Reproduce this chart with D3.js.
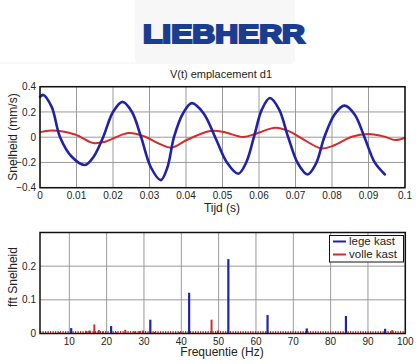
<!DOCTYPE html>
<html>
<head>
<meta charset="utf-8">
<script src="https://cdn.jsdelivr.net/npm/d3@7"></script>
<style>
  body { margin: 0; background: #fff; }
  text { font-family: "Liberation Sans", Arial, sans-serif; fill: #222; }
</style>
</head>
<body>
<div id="chart"></div>
<script>
var width = 416, height = 364;

// top chart: velocity over time
var blueT = [0, 0.0009, 0.0032, 0.0055, 0.0087, 0.0123, 0.0148, 0.0173, 0.0200, 0.0226,
             0.0252, 0.0277, 0.0304, 0.0331, 0.0349, 0.0367, 0.0392, 0.0416, 0.0448, 0.048,
             0.0512, 0.0543, 0.0565, 0.0586, 0.0608, 0.063, 0.0655, 0.068, 0.0707, 0.0733,
             0.0756, 0.0779, 0.0807, 0.0834, 0.0862, 0.0889, 0.0917, 0.0945];
var blueV = [0.32, 0.335, 0.24, 0, -0.155, -0.22, -0.15, 0, 0.2, 0.28,
             0.2, 0, -0.24, -0.34, -0.24, 0, 0.19, 0.27, 0.19, 0,
             -0.2, -0.29, -0.2, 0, 0.22, 0.31, 0.22, 0, -0.21, -0.295,
             -0.21, 0, 0.18, 0.25, 0.18, 0, -0.2, -0.295];
var redT = [0, 0.0032, 0.0096, 0.0146, 0.0178, 0.0242, 0.0288, 0.0329, 0.036, 0.0402,
            0.0466, 0.050, 0.0557, 0.0594, 0.0645, 0.0685, 0.0717, 0.0772, 0.0808, 0.0854,
            0.09, 0.0945, 0.0973, 0.1];
var redV = [0.04, 0.054, 0.022, -0.046, -0.036, 0.033, 0.004, -0.055, -0.083, -0.022,
            0.049, 0.044, 0.002, 0.03, 0.074, 0.044, -0.01, -0.089, -0.062, 0.004,
            0.025, 0.004, -0.022, -0.004];
var timeTicks = [0, 0.01, 0.02, 0.03, 0.04, 0.05, 0.06, 0.07, 0.08, 0.09, 0.1];
var speedTicks = [-0.4, -0.2, 0, 0.2, 0.4];

// bottom chart: fft spectrum
var fftBlueF = [10.5, 21.2, 31.7, 42.1, 52.6, 63.1, 73.6, 84.1, 94.6];
var fftBlueA = [0.016, 0.022, 0.041, 0.121, 0.221, 0.055, 0.015, 0.052, 0.014];
var fftRedF = [7.4, 14.5, 15.4, 16.7, 17.9, 19, 22.5, 25, 27.4, 28.8, 29.7, 32.8, 39.5, 48.1, 49.8, 96.5];
var fftRedA = [0.004, 0.008, 0.009, 0.027, 0.01, 0.006, 0.004, 0.011, 0.006, 0.007, 0.009, 0.004, 0.004, 0.041, 0.009, 0.01];
var freqTicks = [10, 20, 30, 40, 50, 60, 70, 80, 90, 100];
var fftTicks = [0, 0.1, 0.2];
var legendNames = ["lege kast", "volle kast"];

var blue = "#1f23a8", red = "#d42a2a";

var svg = d3.select("#chart").append("svg")
    .attr("width", width).attr("height", height);

// logo area
svg.append("rect").attr("x", 135).attr("y", 0).attr("width", 160).attr("height", 62)
    .attr("fill", "#f7f7f7");
svg.append("line").attr("x1", 0).attr("x2", 293).attr("y1", 63).attr("y2", 63)
    .attr("stroke", "#f0f0f0");
svg.append("text")
    .attr("x", 143).attr("y", 43)
    .attr("textLength", 162).attr("lengthAdjust", "spacingAndGlyphs")
    .style("font-size", "26px").style("font-weight", "bold")
    .style("fill", "#1b3d8f").attr("stroke", "#1b3d8f").attr("stroke-width", 2.2)
    .text("LIEBHERR");

svg.append("text").attr("x", 221).attr("y", 78).attr("text-anchor", "middle")
    .style("font-size", "11px").text("V(t) emplacement d1");

function frame(g, x, y, xt, yt, xfmt, yfmt) {
    var x0 = x.range()[0], x1 = x.range()[1], y0 = y.range()[0], y1 = y.range()[1];
    // grid
    g.selectAll(".gx").data(xt).join("line")
        .attr("x1", d => x(d)).attr("x2", d => x(d)).attr("y1", y0).attr("y2", y1)
        .attr("stroke", "#9a9a9a").attr("stroke-width", 1);
    g.selectAll(".gy").data(yt).join("line")
        .attr("x1", x0).attr("x2", x1).attr("y1", d => y(d)).attr("y2", d => y(d))
        .attr("stroke", "#9a9a9a").attr("stroke-width", 1);
    // tick labels
    g.selectAll(".tx").data(xt).join("text")
        .attr("x", d => x(d)).attr("y", y0 + 11).attr("text-anchor", "middle")
        .style("font-size", "10px").text(xfmt);
    g.selectAll(".ty").data(yt).join("text")
        .attr("x", x0 - 4).attr("y", d => y(d) + 3.6).attr("text-anchor", "end")
        .style("font-size", "10px").text(yfmt);
}

function box(g, x, y) {
    var x0 = x.range()[0], x1 = x.range()[1], y0 = y.range()[0], y1 = y.range()[1];
    g.append("rect").attr("x", x0).attr("y", y1).attr("width", x1 - x0).attr("height", y0 - y1)
        .attr("fill", "none").attr("stroke", "#111").attr("stroke-width", 1.5);
}

// ---- top chart
var xT = d3.scaleLinear().domain([0, 0.1]).range([40, 405]);
var yT = d3.scaleLinear().domain([-0.4, 0.4]).range([187.7, 86.7]);
var gT = svg.append("g");
frame(gT, xT, yT, timeTicks, speedTicks,
    d => d === 0 ? "0" : d3.format("")(+d.toFixed(2)),
    d => d === 0 ? "0" : d3.format("")(+d.toFixed(1)));

var line = d3.line().curve(d3.curveCatmullRom.alpha(0.5))
    .x(d => xT(d[0])).y(d => yT(d[1]));
gT.append("path").datum(d3.zip(redT, redV)).attr("d", line)
    .attr("fill", "none").attr("stroke", red).attr("stroke-width", 2);
gT.append("path").datum(d3.zip(blueT, blueV)).attr("d", line)
    .attr("fill", "none").attr("stroke", blue).attr("stroke-width", 2.6)
    .attr("stroke-linecap", "round");
box(gT, xT, yT);

svg.append("text").attr("transform", "translate(17,137) rotate(-90)")
    .attr("text-anchor", "middle").style("font-size", "12px").text("Snelheid (mm/s)");
svg.append("text").attr("x", 222).attr("y", 212).attr("text-anchor", "middle")
    .style("font-size", "12px").text("Tijd (s)");

// ---- bottom chart
var xF = d3.scaleLinear().domain([2.15, 100]).range([40, 405.3]);
var yF = d3.scaleLinear().domain([0, 0.3]).range([333.5, 232.5]);
var gF = svg.append("g");
frame(gF, xF, yF, freqTicks, fftTicks,
    d => d,
    d => d === 0 ? "0" : d3.format("")(+d.toFixed(1)));

// red dotted baseline from the tiny stems
gF.append("line").attr("x1", xF.range()[0]).attr("x2", xF.range()[1])
    .attr("y1", yF(0) - 1.5).attr("y2", yF(0) - 1.5)
    .attr("stroke", red).attr("stroke-width", 2).attr("stroke-dasharray", "1.2,1.3");

gF.selectAll(".rs").data(d3.zip(fftRedF, fftRedA)).join("line")
    .attr("x1", d => xF(d[0])).attr("x2", d => xF(d[0]))
    .attr("y1", yF(0)).attr("y2", d => yF(d[1]))
    .attr("stroke", red).attr("stroke-width", 2);
gF.selectAll(".bs").data(d3.zip(fftBlueF, fftBlueA)).join("line")
    .attr("x1", d => xF(d[0])).attr("x2", d => xF(d[0]))
    .attr("y1", yF(0)).attr("y2", d => yF(d[1]))
    .attr("stroke", blue).attr("stroke-width", 2.2);
box(gF, xF, yF);

// legend
var lg = svg.append("g");
lg.append("rect").attr("x", 329.5).attr("y", 235.5).attr("width", 74).attr("height", 26.5)
    .attr("fill", "#fff").attr("stroke", "#111").attr("stroke-width", 1);
lg.selectAll(".ll").data(legendNames).join("line")
    .attr("x1", 333).attr("x2", 346)
    .attr("y1", (d, i) => 241.5 + i * 13).attr("y2", (d, i) => 241.5 + i * 13)
    .attr("stroke", (d, i) => i === 0 ? blue : red).attr("stroke-width", 2);
lg.selectAll(".lt").data(legendNames).join("text")
    .attr("x", 349).attr("y", (d, i) => 245 + i * 13)
    .style("font-size", "11.5px").text(d => d);

svg.append("text").attr("transform", "translate(17,277) rotate(-90)")
    .attr("text-anchor", "middle").style("font-size", "12px").text("fft Snelheid");
svg.append("text").attr("x", 222).attr("y", 356).attr("text-anchor", "middle")
    .style("font-size", "12px").text("Frequentie (Hz)");
</script>
</body>
</html>
